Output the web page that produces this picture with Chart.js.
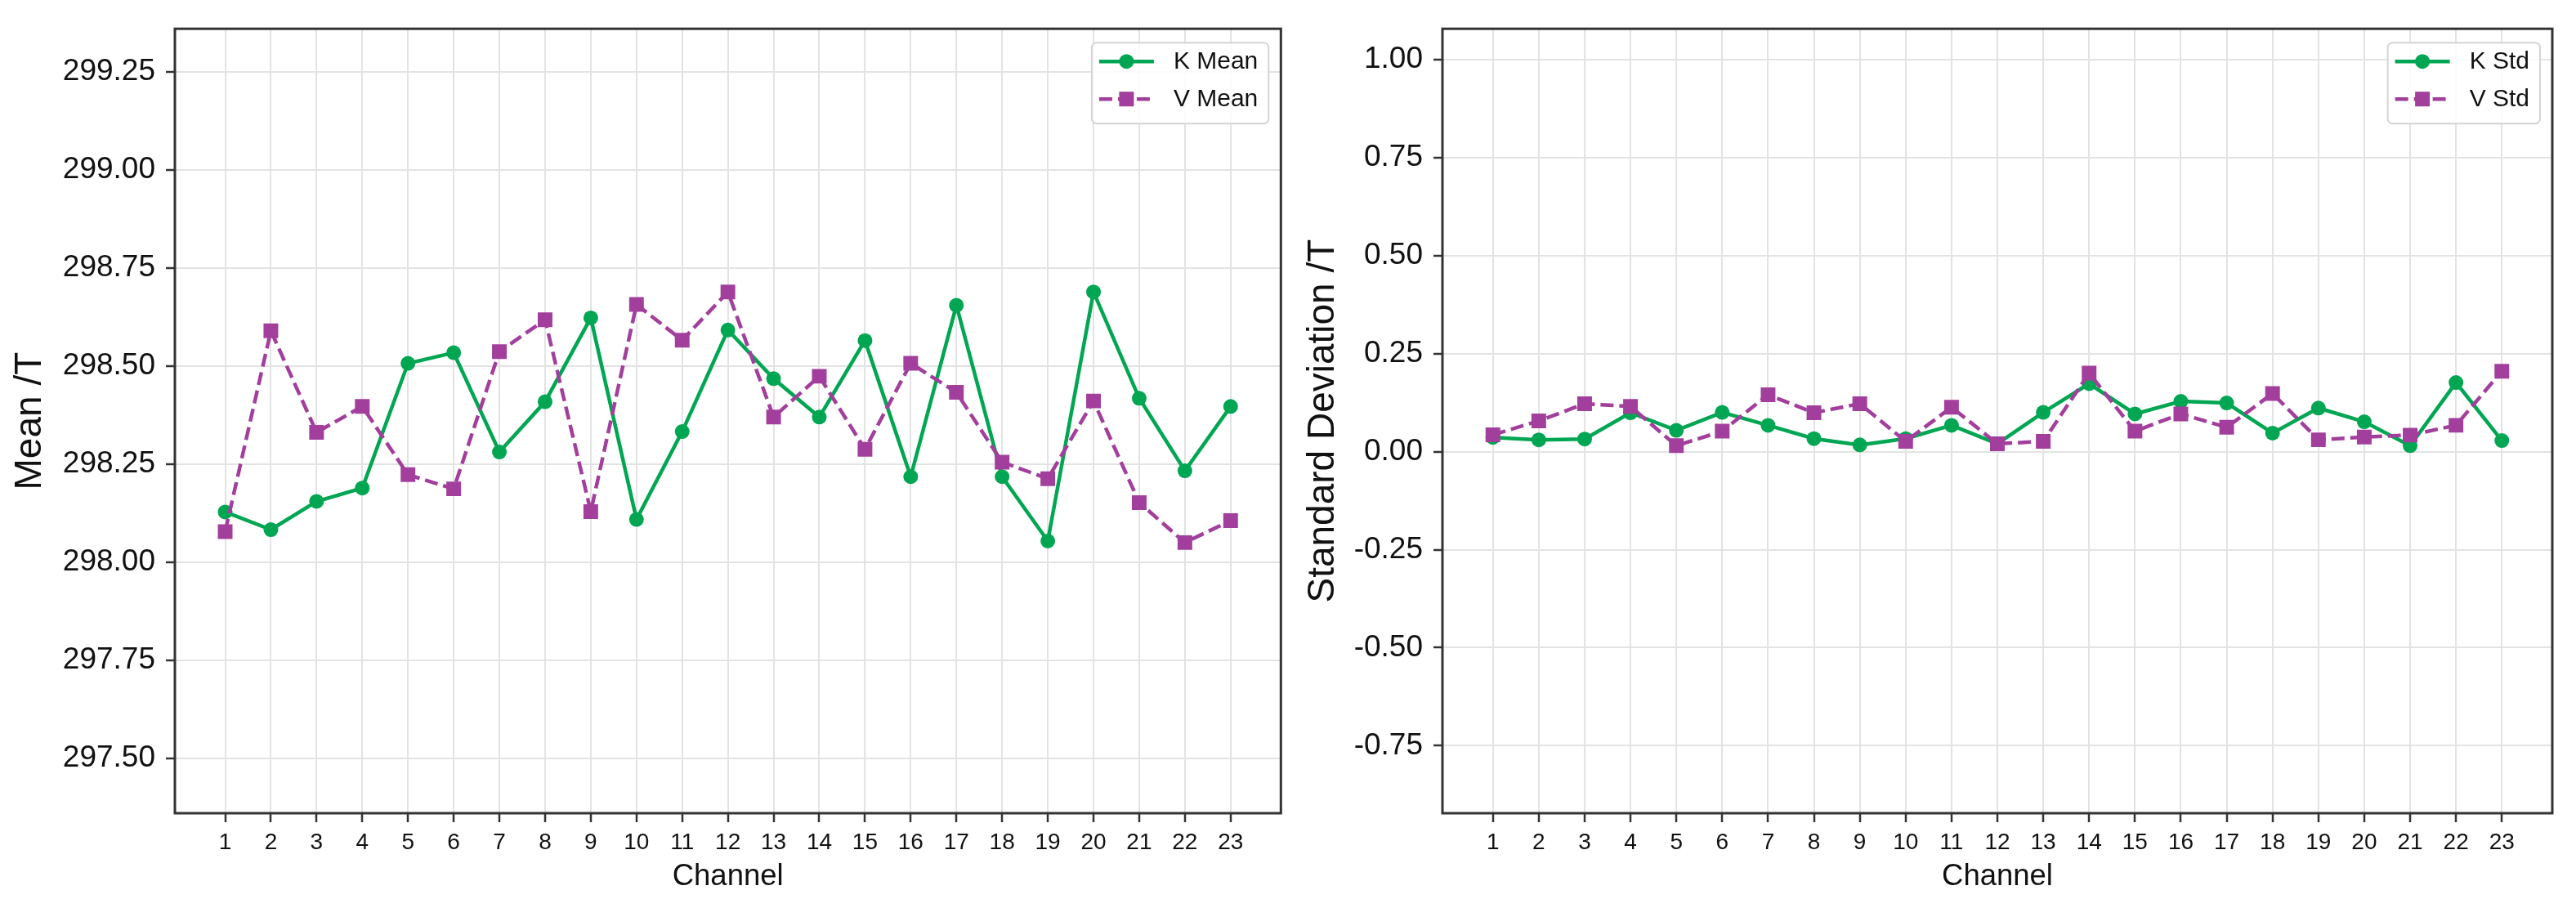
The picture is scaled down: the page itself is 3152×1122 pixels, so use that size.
<!DOCTYPE html>
<html>
<head>
<meta charset="utf-8">
<script src="https://cdn.jsdelivr.net/npm/chart.js@4.4.1/dist/chart.umd.min.js"></script>
<style>
  body { margin: 0; background: #fff; }
  #left { position: absolute; left: 0; top: 0; width: 1580px; height: 1122px; }
  #right { position: absolute; left: 1580px; top: 0; width: 1572px; height: 1122px; }
</style>
</head>
<body>
<div id="left"><canvas id="meanChart" width="1580" height="1122"></canvas></div>
<div id="right"><canvas id="stdChart" width="1572" height="1122"></canvas></div>
<script>
// channel numbers
var channels = [1, 2, 3, 4, 5, 6, 7, 8, 9, 10, 11, 12, 13, 14, 15, 16, 17, 18, 19, 20, 21, 22, 23];

// mean values
var kMean = [298.128, 298.083, 298.155, 298.189, 298.507, 298.534, 298.281, 298.409, 298.623, 298.109, 298.333, 298.592,
             298.468, 298.370, 298.565, 298.218, 298.655, 298.218, 298.054, 298.689, 298.418, 298.233, 298.397];
var vMean = [298.078, 298.590, 298.331, 298.397, 298.223, 298.187, 298.537, 298.618, 298.129, 298.657, 298.566, 298.689,
             298.370, 298.474, 298.288, 298.507, 298.433, 298.255, 298.213, 298.411, 298.152, 298.050, 298.106];

// standard deviations
var kStd = [0.036, 0.030, 0.032, 0.099, 0.054, 0.100, 0.067, 0.033, 0.017, 0.033, 0.067, 0.020,
            0.100, 0.173, 0.096, 0.128, 0.124, 0.047, 0.111, 0.076, 0.015, 0.176, 0.028];
var vStd = [0.043, 0.078, 0.122, 0.115, 0.015, 0.052, 0.145, 0.099, 0.122, 0.026, 0.113, 0.020,
            0.026, 0.200, 0.052, 0.096, 0.062, 0.148, 0.030, 0.037, 0.042, 0.067, 0.205];

// tick labels
var meanTicks = [297.5, 297.75, 298.0, 298.25, 298.5, 298.75, 299.0, 299.25];
var stdTicks = [-0.75, -0.5, -0.25, 0.0, 0.25, 0.5, 0.75, 1.0];

var GREEN = '#00a651';
var PURPLE = '#a23f9c';
var FONT = "'Liberation Sans', Arial, sans-serif";

function toPoints(values) {
    return channels.map(function(c, i) { return { x: c, y: values[i] }; });
}

// box around the plot area
var framePlugin = {
    id: 'frame',
    afterDatasetsDraw: function(chart) {
        var a = chart.chartArea, ctx = chart.ctx;
        ctx.save();
        ctx.strokeStyle = '#333';
        ctx.lineWidth = 3;
        ctx.strokeRect(a.left, a.top, a.right - a.left, a.bottom - a.top);
        ctx.restore();
    }
};

// matplotlib-like legend inside the upper right corner
var legendPlugin = {
    id: 'innerLegend',
    afterDraw: function(chart) {
        var a = chart.chartArea, ctx = chart.ctx;
        var sets = chart.data.datasets;
        ctx.save();
        ctx.font = '30px ' + FONT;
        var textW = 0;
        sets.forEach(function(ds) { textW = Math.max(textW, ctx.measureText(ds.label).width); });
        var w = 9 + 67 + 24 + textW + 13;
        var h = 99;
        var x0 = a.right - 15 - w;
        var y0 = a.top + 17;

        ctx.beginPath();
        ctx.roundRect(x0, y0, w, h, 6);
        ctx.fillStyle = 'rgba(255,255,255,0.85)';
        ctx.fill();
        ctx.strokeStyle = '#d4d4d4';
        ctx.lineWidth = 2;
        ctx.stroke();

        sets.forEach(function(ds, i) {
            var y = y0 + 23 + i * 46;
            var lx = x0 + 9;
            ctx.strokeStyle = ds.borderColor;
            ctx.lineWidth = ds.borderWidth;
            ctx.setLineDash(ds.borderDash || []);
            ctx.beginPath();
            ctx.moveTo(lx, y);
            ctx.lineTo(lx + 67, y);
            ctx.stroke();
            ctx.setLineDash([]);
            ctx.fillStyle = ds.backgroundColor;
            var cx = lx + 33.5;
            if (ds.pointStyle === 'rect') {
                ctx.fillRect(cx - 9, y - 9, 18, 18);
            } else {
                ctx.beginPath();
                ctx.arc(cx, y, 9, 0, Math.PI * 2);
                ctx.fill();
            }
            ctx.fillStyle = '#111';
            ctx.textBaseline = 'middle';
            ctx.textAlign = 'left';
            ctx.fillText(ds.label, lx + 91, y + 1);
        });
        ctx.restore();
    }
};

function makeChart(id, kData, vData, kLabel, vLabel, yTitle, yTicks, yMin, yMax, axisW, padRight, titlePad) {
    var ctx = document.getElementById(id).getContext('2d');
    return new Chart(ctx, {
        type: 'line',
        data: {
            datasets: [{
                label: kLabel,
                data: toPoints(kData),
                borderColor: GREEN,
                backgroundColor: GREEN,
                borderWidth: 4.5,
                pointStyle: 'circle',
                pointRadius: 9,
                pointBorderWidth: 0,
                tension: 0,
                order: 1
            }, {
                label: vLabel,
                data: toPoints(vData),
                borderColor: PURPLE,
                backgroundColor: PURPLE,
                borderWidth: 4.5,
                borderDash: [16, 7],
                pointStyle: 'rect',
                pointRadius: 12.7,
                pointBorderWidth: 0,
                tension: 0,
                order: 0
            }]
        },
        options: {
            responsive: false,
            animation: false,
            devicePixelRatio: 1,
            layout: { padding: { left: 0, top: 32, right: padRight, bottom: 0 } },
            plugins: {
                legend: { display: false },
                tooltip: { enabled: false }
            },
            scales: {
                x: {
                    type: 'linear',
                    min: -0.1,
                    max: 24.1,
                    afterBuildTicks: function(scale) {
                        scale.ticks = channels.map(function(c) { return { value: c }; });
                    },
                    afterFit: function(scale) { scale.height = 127; },
                    ticks: {
                        autoSkip: false,
                        maxRotation: 0,
                        padding: 8,
                        color: '#111',
                        font: { family: FONT, size: 28 },
                        callback: function(v) { return String(v); }
                    },
                    grid: { color: '#e3e3e3', lineWidth: 2, tickColor: '#333', tickLength: 11, tickWidth: 2.5 },
                    border: { display: false },
                    title: {
                        display: true,
                        text: 'Channel',
                        color: '#111',
                        font: { family: FONT, size: 36.5 },
                        padding: { top: 0, bottom: 27 }
                    }
                },
                y: {
                    min: yMin,
                    max: yMax,
                    afterBuildTicks: function(scale) {
                        scale.ticks = yTicks.map(function(v) { return { value: v }; });
                    },
                    afterFit: function(scale) { scale.width = axisW; },
                    ticks: {
                        padding: 13,
                        color: '#111',
                        font: { family: FONT, size: 37 },
                        callback: function(v) { return Number(v).toFixed(2); }
                    },
                    grid: { color: '#e3e3e3', lineWidth: 2, tickColor: '#333', tickLength: 11, tickWidth: 2.5 },
                    border: { display: false },
                    title: {
                        display: true,
                        text: yTitle,
                        color: '#111',
                        font: { family: FONT, size: 46 },
                        padding: { top: titlePad, bottom: 0 }
                    }
                }
            }
        },
        plugins: [framePlugin, legendPlugin]
    });
}

document.addEventListener('DOMContentLoaded', function() {
    makeChart('meanChart', kMean, vMean, 'K Mean', 'V Mean', 'Mean /T', meanTicks, 297.36, 299.36, 214, 10, 9.4);
    makeChart('stdChart', kStd, vStd, 'K Std', 'V Std', 'Standard Deviation /T', stdTicks, -0.922, 1.078, 185, 29, 12);
});
</script>
</body>
</html>
